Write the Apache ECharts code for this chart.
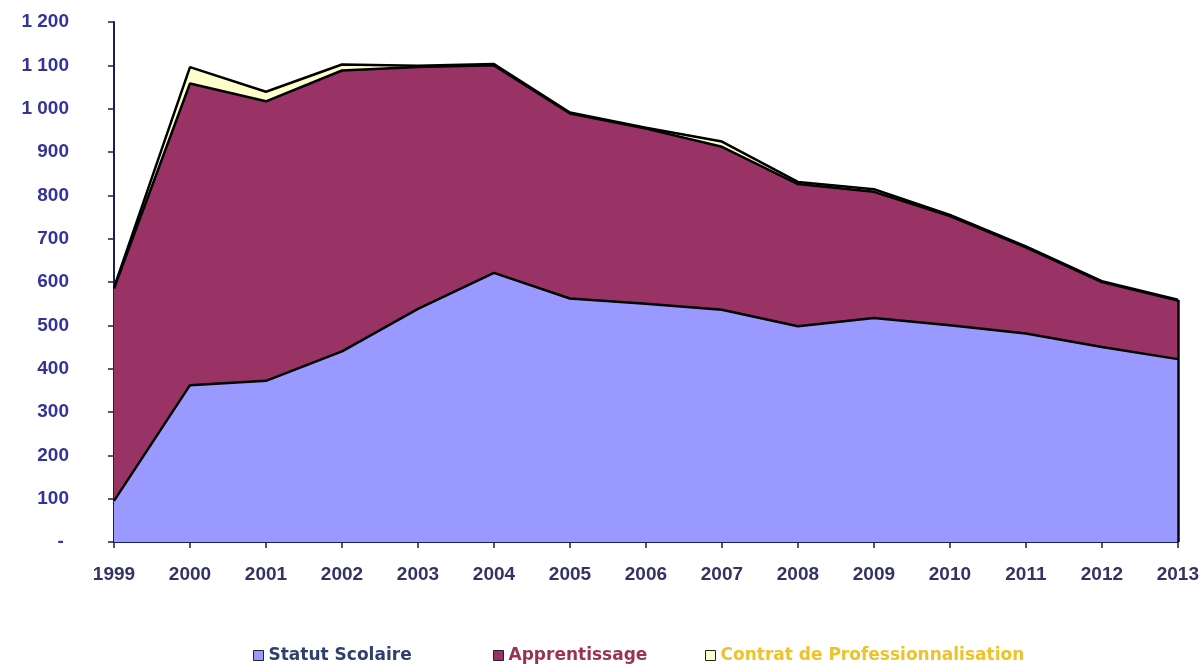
<!DOCTYPE html>
<html>
<head>
<meta charset="utf-8">
<script src="https://cdn.jsdelivr.net/npm/echarts@6/dist/echarts.min.js"></script>
<style>
html,body{margin:0;padding:0;background:#fff;}
#chart{width:1202px;height:667px;}
</style>
</head>
<body>
<div id="chart"></div>
<script>
const years = ['1999','2000','2001','2002','2003','2004','2005','2006','2007','2008','2009','2010','2011','2012','2013'];
const statutScolaire = [95, 362, 372, 440, 538, 621, 562, 550, 536, 498, 517, 500, 481, 450, 422];
const apprentissage = [490, 696, 645, 648, 558, 479, 427, 404, 376, 328, 291, 252, 199, 150, 135];
const contratPro = [2, 38, 22, 14, 3, 3, 2, 2, 12, 5, 6, 3, 2, 2, 2];
const seriesNames = ['Statut Scolaire', 'Apprentissage', 'Contrat de Professionnalisation'];
const yTicks = { min: 0, max: 1200, interval: 100 };

const chart = echarts.init(document.getElementById('chart'), null, { renderer: 'canvas' });

function fmtY(v) {
  if (v === 0) return '-\u00a0';
  const s = String(v);
  return s.length > 3 ? s.slice(0, s.length - 3) + ' ' + s.slice(-3) : s;
}

const areaColors = ['#9999FF', '#993366', '#FFFFCC'];
const legendText = ['#2F3F6F', '#993355', '#EEC22A'];
const legendLeft = [253, 493, 705];
const dataArr = [statutScolaire, apprentissage, contratPro];

const option = {
  backgroundColor: '#ffffff',
  animation: false,
  grid: { left: 114, right: 23, top: 22, bottom: 125, containLabel: false },
  legend: seriesNames.map((n, i) => ({
    data: [{ name: n, itemStyle: { color: areaColors[i], borderColor: '#222', borderWidth: 1 } }],
    left: legendLeft[i],
    top: 647,
    padding: 0,
    icon: 'rect',
    itemWidth: 10,
    itemHeight: 10,
    itemGap: 4,
    textStyle: { color: legendText[i], fontFamily: 'DejaVu Sans', fontWeight: 'bold', fontSize: 17 }
  })),
  xAxis: {
    type: 'category',
    data: years,
    boundaryGap: false,
    axisLine: { lineStyle: { color: '#1C1C5A', width: 2 } },
    axisTick: { show: true, length: 6, lineStyle: { color: '#1C1C5A', width: 1.5 }, alignWithLabel: true },
    axisLabel: { color: '#333366', fontFamily: 'Liberation Sans', fontWeight: 'bold', fontSize: 19, margin: 23 },
    splitLine: { show: false }
  },
  yAxis: [{
    type: 'value',
    min: yTicks.min,
    max: yTicks.max,
    interval: yTicks.interval,
    axisLine: { show: true, lineStyle: { color: '#1C1C5A', width: 2 } },
    axisTick: { show: true, length: 6, lineStyle: { color: '#1C1C5A', width: 1.5 } },
    axisLabel: { color: '#333399', fontFamily: 'Liberation Sans', fontWeight: 'bold', fontSize: 19, margin: 45, formatter: fmtY },
    splitLine: { show: false }
  }, {
    type: 'value',
    position: 'right',
    min: yTicks.min,
    max: yTicks.max,
    interval: yTicks.interval,
    axisLine: { show: false },
    axisTick: { show: false },
    axisLabel: { show: false },
    splitLine: { show: false }
  }],
  series: seriesNames.map((n, i) => ({
    name: n,
    type: 'line',
    stack: 'total',
    data: dataArr[i],
    symbol: 'none',
    lineStyle: { color: '#000000', width: 2.5 },
    itemStyle: { color: areaColors[i] },
    areaStyle: { color: areaColors[i], opacity: 1 },
    z: 2
  })).concat([{
    name: 'edge',
    type: 'line',
    data: [],
    markLine: {
      silent: true,
      symbol: 'none',
      label: { show: false },
      lineStyle: { color: '#000000', width: 2.5, type: 'solid' },
      data: [[
        { coord: [years[years.length - 1], 0] },
        { coord: [years[years.length - 1], statutScolaire[14] + apprentissage[14] + contratPro[14]] }
      ]]
    },
    z: 5
  }])
};
chart.setOption(option);
</script>
</body>
</html>
